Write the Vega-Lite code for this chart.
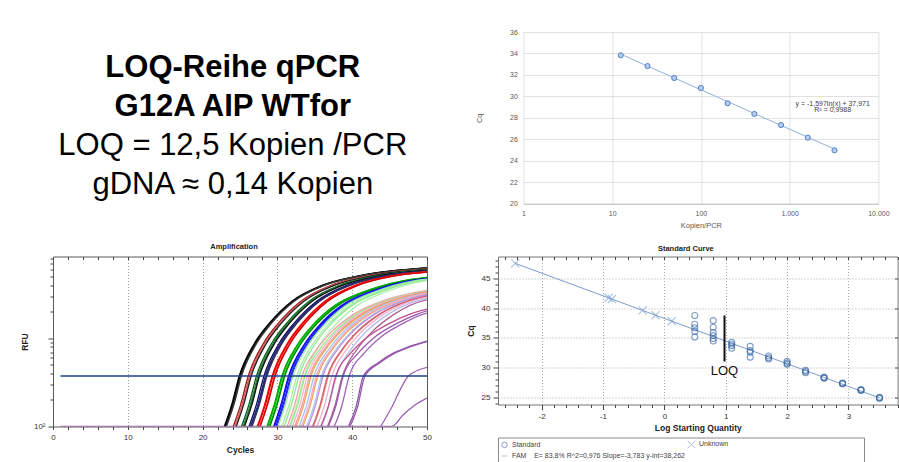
{
  "$schema": "https://vega.github.io/schema/vega-lite/v6.json",
  "autosize": {"type": "pad"},
  "padding": {"left": 19, "top": 28, "right": 0, "bottom": 0},
  "background": "white",
  "spacing": 12.5,
  "resolve": {
    "scale": {"color": "independent", "shape": "independent"},
    "legend": {"color": "independent", "shape": "independent"}
  },
  "config": {
    "font": "Liberation Sans",
    "locale": {"number": {"decimal": ",", "thousands": ".", "grouping": [3], "currency": ["", " €"], "minus": "-"}},
    "view": {"stroke": null},
    "axis": {"labelFlush": false, "labelOverlap": false, "labelFont": "Liberation Sans", "titleFont": "Liberation Sans"},
    "title": {"font": "Liberation Sans"}
  },
  "datasets": {
    "zeilen": [
      {"n": 1, "t": "LOQ-Reihe qPCR", "art": "Titel"},
      {"n": 2, "t": "G12A AIP WTfor", "art": "Titel"},
      {"n": 3, "t": "LOQ = 12,5 Kopien /PCR", "art": "Ergebnis"},
      {"n": 4, "t": "gDNA ≈ 0,14 Kopien", "art": "Ergebnis"}
    ],
    "loqreihe": [
      {"n": 12.5, "cq": 33.83}, {"n": 25, "cq": 32.83}, {"n": 50, "cq": 31.71},
      {"n": 100, "cq": 30.78}, {"n": 200, "cq": 29.35}, {"n": 400, "cq": 28.36},
      {"n": 800, "cq": 27.33}, {"n": 1600, "cq": 26.15}, {"n": 3200, "cq": 24.97}
    ],
    "trend": [{"n": 12.5, "cq": 33.937}, {"n": 3200, "cq": 25.082}],
    "gleichung": [
      {"n": 3055, "cq": 29.32, "t": "y = -1,597ln(x) + 37,971"},
      {"n": 3055, "cq": 28.76, "t": "R² = 0,9988"}
    ],
    "schwelle": [{"c": 1, "c2": 50, "r": 374}],
    "kurven": [
      {"w":"A1","c":22.9,"r":100},{"w":"A1","c":23.9,"r":178},{"w":"A1","c":24.9,"r":374},{"w":"A1","c":26.9,"r":870},{"w":"A1","c":28.9,"r":1480},{"w":"A1","c":31.9,"r":2630},{"w":"A1","c":35.9,"r":3980},{"w":"A1","c":40.9,"r":5130},{"w":"A1","c":50,"r":6310},
      {"w":"A2","c":23,"r":100},{"w":"A2","c":24,"r":178},{"w":"A2","c":25,"r":374},{"w":"A2","c":27,"r":870},{"w":"A2","c":29,"r":1480},{"w":"A2","c":32,"r":2630},{"w":"A2","c":36,"r":3980},{"w":"A2","c":41,"r":5130},{"w":"A2","c":50,"r":6300},
      {"w":"A3","c":23.1,"r":100},{"w":"A3","c":24.1,"r":178},{"w":"A3","c":25.1,"r":374},{"w":"A3","c":27.1,"r":870},{"w":"A3","c":29.1,"r":1480},{"w":"A3","c":32.1,"r":2630},{"w":"A3","c":36.1,"r":3980},{"w":"A3","c":41.1,"r":5130},{"w":"A3","c":50,"r":6280},
      {"w":"A4","c":23.2,"r":100},{"w":"A4","c":24.2,"r":178},{"w":"A4","c":25.2,"r":374},{"w":"A4","c":27.2,"r":870},{"w":"A4","c":29.2,"r":1480},{"w":"A4","c":32.2,"r":2630},{"w":"A4","c":36.2,"r":3980},{"w":"A4","c":41.2,"r":5130},{"w":"A4","c":50,"r":6260},
      {"w":"B1","c":24.1,"r":100},{"w":"B1","c":25.1,"r":178},{"w":"B1","c":26.1,"r":374},{"w":"B1","c":28.1,"r":870},{"w":"B1","c":30.1,"r":1480},{"w":"B1","c":33.1,"r":2630},{"w":"B1","c":37.1,"r":3980},{"w":"B1","c":42.1,"r":5130},{"w":"B1","c":50,"r":6150},
      {"w":"B2","c":24.3,"r":100},{"w":"B2","c":25.3,"r":178},{"w":"B2","c":26.3,"r":374},{"w":"B2","c":28.3,"r":870},{"w":"B2","c":30.3,"r":1480},{"w":"B2","c":33.3,"r":2630},{"w":"B2","c":37.3,"r":3980},{"w":"B2","c":42.3,"r":5130},{"w":"B2","c":50,"r":6120},
      {"w":"B3","c":24.4,"r":100},{"w":"B3","c":25.4,"r":178},{"w":"B3","c":26.4,"r":374},{"w":"B3","c":28.4,"r":870},{"w":"B3","c":30.4,"r":1480},{"w":"B3","c":33.4,"r":2630},{"w":"B3","c":37.4,"r":3980},{"w":"B3","c":42.4,"r":5130},{"w":"B3","c":50,"r":6110},
      {"w":"B4","c":24.5,"r":100},{"w":"B4","c":25.5,"r":178},{"w":"B4","c":26.5,"r":374},{"w":"B4","c":28.5,"r":870},{"w":"B4","c":30.5,"r":1480},{"w":"B4","c":33.5,"r":2630},{"w":"B4","c":37.5,"r":3980},{"w":"B4","c":42.5,"r":5130},{"w":"B4","c":50,"r":6090},
      {"w":"C1","c":25.2,"r":100},{"w":"C1","c":26.2,"r":178},{"w":"C1","c":27.2,"r":374},{"w":"C1","c":29.2,"r":870},{"w":"C1","c":31.2,"r":1480},{"w":"C1","c":34.2,"r":2630},{"w":"C1","c":38.2,"r":3980},{"w":"C1","c":43.2,"r":5130},{"w":"C1","c":50,"r":6000},
      {"w":"C2","c":25.4,"r":100},{"w":"C2","c":26.4,"r":178},{"w":"C2","c":27.4,"r":374},{"w":"C2","c":29.4,"r":870},{"w":"C2","c":31.4,"r":1480},{"w":"C2","c":34.4,"r":2630},{"w":"C2","c":38.4,"r":3980},{"w":"C2","c":43.4,"r":5130},{"w":"C2","c":50,"r":5970},
      {"w":"C3","c":25.5,"r":100},{"w":"C3","c":26.5,"r":178},{"w":"C3","c":27.5,"r":374},{"w":"C3","c":29.5,"r":870},{"w":"C3","c":31.5,"r":1480},{"w":"C3","c":34.5,"r":2630},{"w":"C3","c":38.5,"r":3980},{"w":"C3","c":43.5,"r":5130},{"w":"C3","c":50,"r":5960},
      {"w":"C4","c":25.6,"r":100},{"w":"C4","c":26.6,"r":178},{"w":"C4","c":27.6,"r":374},{"w":"C4","c":29.6,"r":870},{"w":"C4","c":31.6,"r":1480},{"w":"C4","c":34.6,"r":2630},{"w":"C4","c":38.6,"r":3980},{"w":"C4","c":43.6,"r":5130},{"w":"C4","c":50,"r":5940},
      {"w":"D1","c":26.2,"r":100},{"w":"D1","c":27.2,"r":178},{"w":"D1","c":28.2,"r":374},{"w":"D1","c":30.2,"r":870},{"w":"D1","c":32.2,"r":1480},{"w":"D1","c":35.2,"r":2630},{"w":"D1","c":39.2,"r":3980},{"w":"D1","c":44.2,"r":5130},{"w":"D1","c":50,"r":5860},
      {"w":"D2","c":26.4,"r":100},{"w":"D2","c":27.4,"r":178},{"w":"D2","c":28.4,"r":374},{"w":"D2","c":30.4,"r":870},{"w":"D2","c":32.4,"r":1480},{"w":"D2","c":35.4,"r":2630},{"w":"D2","c":39.4,"r":3980},{"w":"D2","c":44.4,"r":5130},{"w":"D2","c":50,"r":5830},
      {"w":"D3","c":26.5,"r":100},{"w":"D3","c":27.5,"r":178},{"w":"D3","c":28.5,"r":374},{"w":"D3","c":30.5,"r":870},{"w":"D3","c":32.5,"r":1480},{"w":"D3","c":35.5,"r":2630},{"w":"D3","c":39.5,"r":3980},{"w":"D3","c":44.5,"r":5130},{"w":"D3","c":50,"r":5820},
      {"w":"D4","c":26.6,"r":100},{"w":"D4","c":27.6,"r":178},{"w":"D4","c":28.6,"r":374},{"w":"D4","c":30.6,"r":870},{"w":"D4","c":32.6,"r":1480},{"w":"D4","c":35.6,"r":2630},{"w":"D4","c":39.6,"r":3980},{"w":"D4","c":44.6,"r":5130},{"w":"D4","c":50,"r":5800},
      {"w":"E1","c":27.3,"r":100},{"w":"E1","c":28.3,"r":178},{"w":"E1","c":29.3,"r":374},{"w":"E1","c":31.3,"r":870},{"w":"E1","c":33.3,"r":1480},{"w":"E1","c":36.3,"r":2630},{"w":"E1","c":40.3,"r":3980},{"w":"E1","c":45.3,"r":5130},{"w":"E1","c":50,"r":5710},
      {"w":"E2","c":27.4,"r":100},{"w":"E2","c":28.4,"r":178},{"w":"E2","c":29.4,"r":374},{"w":"E2","c":31.4,"r":870},{"w":"E2","c":33.4,"r":1480},{"w":"E2","c":36.4,"r":2630},{"w":"E2","c":40.4,"r":3980},{"w":"E2","c":45.4,"r":5130},{"w":"E2","c":50,"r":5700},
      {"w":"E3","c":27.6,"r":100},{"w":"E3","c":28.6,"r":178},{"w":"E3","c":29.6,"r":374},{"w":"E3","c":31.6,"r":870},{"w":"E3","c":33.6,"r":1480},{"w":"E3","c":36.6,"r":2630},{"w":"E3","c":40.6,"r":3980},{"w":"E3","c":45.6,"r":5130},{"w":"E3","c":50,"r":5670},
      {"w":"E4","c":27.7,"r":100},{"w":"E4","c":28.7,"r":178},{"w":"E4","c":29.7,"r":374},{"w":"E4","c":31.7,"r":870},{"w":"E4","c":33.7,"r":1480},{"w":"E4","c":36.7,"r":2630},{"w":"E4","c":40.7,"r":3980},{"w":"E4","c":45.7,"r":5130},{"w":"E4","c":50,"r":5660},
      {"w":"F1","c":28.6,"r":100},{"w":"F1","c":29.6,"r":180},{"w":"F1","c":30.6,"r":374},{"w":"F1","c":32.6,"r":830},{"w":"F1","c":34.6,"r":1380},{"w":"F1","c":37.6,"r":2340},{"w":"F1","c":41.6,"r":3390},{"w":"F1","c":46.6,"r":4470},{"w":"F1","c":50,"r":4910},
      {"w":"F2","c":28.7,"r":100},{"w":"F2","c":29.7,"r":180},{"w":"F2","c":30.7,"r":374},{"w":"F2","c":32.7,"r":830},{"w":"F2","c":34.7,"r":1380},{"w":"F2","c":37.7,"r":2340},{"w":"F2","c":41.7,"r":3390},{"w":"F2","c":46.7,"r":4470},{"w":"F2","c":50,"r":4900},
      {"w":"F3","c":28.9,"r":100},{"w":"F3","c":29.9,"r":180},{"w":"F3","c":30.9,"r":374},{"w":"F3","c":32.9,"r":830},{"w":"F3","c":34.9,"r":1380},{"w":"F3","c":37.9,"r":2340},{"w":"F3","c":41.9,"r":3390},{"w":"F3","c":46.9,"r":4470},{"w":"F3","c":50,"r":4870},
      {"w":"F4","c":29,"r":100},{"w":"F4","c":30,"r":180},{"w":"F4","c":31,"r":374},{"w":"F4","c":33,"r":830},{"w":"F4","c":35,"r":1380},{"w":"F4","c":38,"r":2340},{"w":"F4","c":42,"r":3390},{"w":"F4","c":47,"r":4470},{"w":"F4","c":50,"r":4850},
      {"w":"G1","c":29.5,"r":100},{"w":"G1","c":30.5,"r":180},{"w":"G1","c":31.5,"r":374},{"w":"G1","c":33.5,"r":830},{"w":"G1","c":35.5,"r":1380},{"w":"G1","c":38.5,"r":2340},{"w":"G1","c":42.5,"r":3390},{"w":"G1","c":47.5,"r":4470},{"w":"G1","c":50,"r":4790},
      {"w":"G2","c":29.6,"r":100},{"w":"G2","c":30.6,"r":180},{"w":"G2","c":31.6,"r":374},{"w":"G2","c":33.6,"r":830},{"w":"G2","c":35.6,"r":1380},{"w":"G2","c":38.6,"r":2340},{"w":"G2","c":42.6,"r":3390},{"w":"G2","c":47.6,"r":4470},{"w":"G2","c":50,"r":4780},
      {"w":"G3","c":29.8,"r":100},{"w":"G3","c":30.8,"r":180},{"w":"G3","c":31.8,"r":374},{"w":"G3","c":33.8,"r":830},{"w":"G3","c":35.8,"r":1380},{"w":"G3","c":38.8,"r":2340},{"w":"G3","c":42.8,"r":3390},{"w":"G3","c":47.8,"r":4470},{"w":"G3","c":50,"r":4750},
      {"w":"G4","c":29.9,"r":100},{"w":"G4","c":30.9,"r":180},{"w":"G4","c":31.9,"r":374},{"w":"G4","c":33.9,"r":830},{"w":"G4","c":35.9,"r":1380},{"w":"G4","c":38.9,"r":2340},{"w":"G4","c":42.9,"r":3390},{"w":"G4","c":47.9,"r":4470},{"w":"G4","c":50,"r":4740},
      {"w":"H1","c":30.1,"r":100},{"w":"H1","c":31.1,"r":180},{"w":"H1","c":32.1,"r":374},{"w":"H1","c":34.1,"r":830},{"w":"H1","c":36.1,"r":1380},{"w":"H1","c":39.1,"r":2340},{"w":"H1","c":43.1,"r":3390},{"w":"H1","c":48.1,"r":4470},{"w":"H1","c":50,"r":4710},
      {"w":"H2","c":30.6,"r":100},{"w":"H2","c":31.6,"r":180},{"w":"H2","c":32.6,"r":374},{"w":"H2","c":34.6,"r":830},{"w":"H2","c":36.6,"r":1380},{"w":"H2","c":39.6,"r":2340},{"w":"H2","c":43.6,"r":3390},{"w":"H2","c":48.6,"r":4470},{"w":"H2","c":50,"r":4650},
      {"w":"H3","c":30.9,"r":100},{"w":"H3","c":31.9,"r":180},{"w":"H3","c":32.9,"r":374},{"w":"H3","c":34.9,"r":830},{"w":"H3","c":36.9,"r":1380},{"w":"H3","c":39.9,"r":2340},{"w":"H3","c":43.9,"r":3390},{"w":"H3","c":48.9,"r":4470},{"w":"H3","c":50,"r":4610},
      {"w":"H4","c":31.6,"r":100},{"w":"H4","c":32.6,"r":180},{"w":"H4","c":33.6,"r":374},{"w":"H4","c":35.6,"r":830},{"w":"H4","c":37.6,"r":1380},{"w":"H4","c":40.6,"r":2340},{"w":"H4","c":44.6,"r":3390},{"w":"H4","c":49.6,"r":4470},{"w":"H4","c":50,"r":4520},
      {"w":"A5","c":31.3,"r":100},{"w":"A5","c":32.3,"r":175},{"w":"A5","c":33.3,"r":374},{"w":"A5","c":35.3,"r":760},{"w":"A5","c":37.3,"r":1200},{"w":"A5","c":40.3,"r":1900},{"w":"A5","c":44.3,"r":2700},{"w":"A5","c":48.3,"r":3300},{"w":"A5","c":50,"r":3500},
      {"w":"A6","c":31.7,"r":100},{"w":"A6","c":32.7,"r":175},{"w":"A6","c":33.7,"r":374},{"w":"A6","c":35.7,"r":760},{"w":"A6","c":37.7,"r":1200},{"w":"A6","c":40.7,"r":1900},{"w":"A6","c":44.7,"r":2700},{"w":"A6","c":48.7,"r":3300},{"w":"A6","c":50,"r":3450},
      {"w":"A7","c":32,"r":100},{"w":"A7","c":33,"r":175},{"w":"A7","c":34,"r":374},{"w":"A7","c":36,"r":760},{"w":"A7","c":38,"r":1200},{"w":"A7","c":41,"r":1900},{"w":"A7","c":45,"r":2700},{"w":"A7","c":49,"r":3300},{"w":"A7","c":50,"r":3420},
      {"w":"A8","c":32.3,"r":100},{"w":"A8","c":33.3,"r":175},{"w":"A8","c":34.3,"r":374},{"w":"A8","c":36.3,"r":760},{"w":"A8","c":38.3,"r":1200},{"w":"A8","c":41.3,"r":1900},{"w":"A8","c":45.3,"r":2700},{"w":"A8","c":49.3,"r":3300},{"w":"A8","c":50,"r":3390},
      {"w":"B5","c":32.5,"r":100},{"w":"B5","c":33.5,"r":175},{"w":"B5","c":34.5,"r":374},{"w":"B5","c":36.5,"r":760},{"w":"B5","c":38.5,"r":1200},{"w":"B5","c":41.5,"r":1900},{"w":"B5","c":45.5,"r":2700},{"w":"B5","c":49.5,"r":3300},{"w":"B5","c":50,"r":3360},
      {"w":"B6","c":32.9,"r":100},{"w":"B6","c":33.9,"r":175},{"w":"B6","c":34.9,"r":374},{"w":"B6","c":36.9,"r":760},{"w":"B6","c":38.9,"r":1200},{"w":"B6","c":41.9,"r":1900},{"w":"B6","c":45.9,"r":2700},{"w":"B6","c":50,"r":3310},
      {"w":"B7","c":33.4,"r":100},{"w":"B7","c":34.4,"r":175},{"w":"B7","c":35.4,"r":374},{"w":"B7","c":37.4,"r":760},{"w":"B7","c":39.4,"r":1200},{"w":"B7","c":42.4,"r":1900},{"w":"B7","c":46.4,"r":2700},{"w":"B7","c":50,"r":3240},
      {"w":"B8","c":33.9,"r":100},{"w":"B8","c":34.9,"r":175},{"w":"B8","c":35.9,"r":374},{"w":"B8","c":37.9,"r":760},{"w":"B8","c":39.9,"r":1200},{"w":"B8","c":42.9,"r":1900},{"w":"B8","c":46.9,"r":2700},{"w":"B8","c":50,"r":3150},
      {"w":"B9","c":34.8,"r":100},{"w":"B9","c":35.8,"r":175},{"w":"B9","c":36.8,"r":374},{"w":"B9","c":38.8,"r":760},{"w":"B9","c":40.8,"r":1200},{"w":"B9","c":43.8,"r":1900},{"w":"B9","c":47.8,"r":2700},{"w":"B9","c":50,"r":3010},
      {"w":"B10","c":35.9,"r":100},{"w":"B10","c":36.9,"r":175},{"w":"B10","c":37.9,"r":374},{"w":"B10","c":39.9,"r":760},{"w":"B10","c":41.9,"r":1200},{"w":"B10","c":44.9,"r":1900},{"w":"B10","c":48.9,"r":2700},{"w":"B10","c":50,"r":2850},
      {"w":"C5","c":33.2,"r":100},{"w":"C5","c":34.2,"r":175},{"w":"C5","c":35.2,"r":374},{"w":"C5","c":37.2,"r":760},{"w":"C5","c":39.2,"r":1200},{"w":"C5","c":42.2,"r":1900},{"w":"C5","c":46.2,"r":2700},{"w":"C5","c":50,"r":3270},
      {"w":"C6","c":34.1,"r":100},{"w":"C6","c":35.1,"r":175},{"w":"C6","c":36.1,"r":374},{"w":"C6","c":38.1,"r":760},{"w":"C6","c":40.1,"r":1200},{"w":"C6","c":43.1,"r":1900},{"w":"C6","c":47.1,"r":2700},{"w":"C6","c":50,"r":3130},
      {"w":"C7","c":34.7,"r":100},{"w":"C7","c":35.7,"r":175},{"w":"C7","c":36.7,"r":374},{"w":"C7","c":38.7,"r":760},{"w":"C7","c":40.7,"r":1200},{"w":"C7","c":43.7,"r":1900},{"w":"C7","c":47.7,"r":2700},{"w":"C7","c":50,"r":3030},
      {"w":"C8","c":35.3,"r":100},{"w":"C8","c":36.3,"r":175},{"w":"C8","c":37.3,"r":374},{"w":"C8","c":39.3,"r":760},{"w":"C8","c":41.3,"r":1200},{"w":"C8","c":44.3,"r":1900},{"w":"C8","c":48.3,"r":2700},{"w":"C8","c":50,"r":2940},
      {"w":"C9","c":36.7,"r":100},{"w":"C9","c":37.7,"r":175},{"w":"C9","c":38.7,"r":374},{"w":"C9","c":40.7,"r":760},{"w":"C9","c":42.7,"r":1200},{"w":"C9","c":45.7,"r":1900},{"w":"C9","c":49.7,"r":2700},{"w":"C9","c":50,"r":2730},
      {"w":"U1","c":35.8,"r":100},{"w":"U1","c":36.8,"r":170},{"w":"U1","c":37.8,"r":374},{"w":"U1","c":39.8,"r":680},{"w":"U1","c":41.8,"r":1000},{"w":"U1","c":44.8,"r":1450},{"w":"U1","c":47.8,"r":1900},{"w":"U1","c":50,"r":2150},
      {"w":"U2","c":36.8,"r":100},{"w":"U2","c":37.8,"r":170},{"w":"U2","c":38.8,"r":374},{"w":"U2","c":40.8,"r":680},{"w":"U2","c":42.8,"r":1000},{"w":"U2","c":45.8,"r":1450},{"w":"U2","c":48.8,"r":1900},{"w":"U2","c":50,"r":2050},
      {"w":"U3","c":37.6,"r":100},{"w":"U3","c":38.6,"r":170},{"w":"U3","c":39.6,"r":374},{"w":"U3","c":41.6,"r":680},{"w":"U3","c":43.6,"r":1000},{"w":"U3","c":46.6,"r":1450},{"w":"U3","c":49.6,"r":1900},{"w":"U3","c":50,"r":1940},
      {"w":"U4","c":39.5,"r":100},{"w":"U4","c":40.5,"r":165},{"w":"U4","c":41.5,"r":374},{"w":"U4","c":43.5,"r":530},{"w":"U4","c":45.5,"r":680},{"w":"U4","c":47.5,"r":800},{"w":"U4","c":50,"r":930},
      {"w":"U5","c":39.7,"r":100},{"w":"U5","c":40.7,"r":165},{"w":"U5","c":41.7,"r":374},{"w":"U5","c":43.7,"r":530},{"w":"U5","c":45.7,"r":680},{"w":"U5","c":47.7,"r":800},{"w":"U5","c":50,"r":920},
      {"w":"U6","c":43.8,"r":100},{"w":"U6","c":45.2,"r":160},{"w":"U6","c":46.6,"r":280},{"w":"U6","c":47.5,"r":374},{"w":"U6","c":50,"r":470},
      {"w":"N1","c":1,"r":100},{"w":"N1","c":45.3,"r":100},{"w":"N1","c":46.8,"r":135},{"w":"N1","c":48.4,"r":175},{"w":"N1","c":50,"r":210}
    ],
    "standardkurve": [
      {"lq": 0.495, "cq": 38.75, "typ": "Standard"}, {"lq": 0.495, "cq": 37.3, "typ": "Standard"}, {"lq": 0.495, "cq": 36.7, "typ": "Standard"}, {"lq": 0.495, "cq": 36.1, "typ": "Standard"}, {"lq": 0.495, "cq": 35.15, "typ": "Standard"},
      {"lq": 0.796, "cq": 37.9, "typ": "Standard"}, {"lq": 0.796, "cq": 36.8, "typ": "Standard"}, {"lq": 0.796, "cq": 35.9, "typ": "Standard"}, {"lq": 0.796, "cq": 35.4, "typ": "Standard"}, {"lq": 0.796, "cq": 34.9, "typ": "Standard"}, {"lq": 0.796, "cq": 34.5, "typ": "Standard"},
      {"lq": 1.097, "cq": 34.3, "typ": "Standard"}, {"lq": 1.097, "cq": 34.0, "typ": "Standard"}, {"lq": 1.097, "cq": 33.7, "typ": "Standard"}, {"lq": 1.097, "cq": 33.3, "typ": "Standard"},
      {"lq": 1.398, "cq": 33.6, "typ": "Standard"}, {"lq": 1.398, "cq": 32.9, "typ": "Standard"}, {"lq": 1.398, "cq": 32.6, "typ": "Standard"}, {"lq": 1.398, "cq": 31.8, "typ": "Standard"},
      {"lq": 1.699, "cq": 32.0, "typ": "Standard"}, {"lq": 1.699, "cq": 31.7, "typ": "Standard"}, {"lq": 1.699, "cq": 31.5, "typ": "Standard"},
      {"lq": 2.0, "cq": 31.1, "typ": "Standard"}, {"lq": 2.0, "cq": 30.8, "typ": "Standard"}, {"lq": 2.0, "cq": 30.6, "typ": "Standard"},
      {"lq": 2.301, "cq": 29.6, "typ": "Standard"}, {"lq": 2.301, "cq": 29.4, "typ": "Standard"}, {"lq": 2.301, "cq": 29.2, "typ": "Standard"},
      {"lq": 2.602, "cq": 28.5, "typ": "Standard"}, {"lq": 2.602, "cq": 28.35, "typ": "Standard"}, {"lq": 2.602, "cq": 28.3, "typ": "Standard"},
      {"lq": 2.903, "cq": 27.5, "typ": "Standard"}, {"lq": 2.903, "cq": 27.4, "typ": "Standard"}, {"lq": 2.903, "cq": 27.35, "typ": "Standard"},
      {"lq": 3.204, "cq": 26.4, "typ": "Standard"}, {"lq": 3.204, "cq": 26.3, "typ": "Standard"}, {"lq": 3.204, "cq": 26.25, "typ": "Standard"},
      {"lq": 3.505, "cq": 25.1, "typ": "Standard"}, {"lq": 3.505, "cq": 25.0, "typ": "Standard"}, {"lq": 3.505, "cq": 24.95, "typ": "Standard"},
      {"lq": -2.429, "cq": 47.45, "typ": "Unknown"}, {"lq": -0.909, "cq": 41.7, "typ": "Unknown"}, {"lq": -0.856, "cq": 41.5, "typ": "Unknown"},
      {"lq": -0.354, "cq": 39.6, "typ": "Unknown"}, {"lq": -0.142, "cq": 38.8, "typ": "Unknown"}, {"lq": 0.122, "cq": 37.8, "typ": "Unknown"}
    ],
    "fam": [{"lq": -2.429, "cq": 47.451}, {"lq": 3.505, "cq": 25.003}],
    "loq": [{"lq": 0.98, "cq": 31.07, "cq2": 38.75, "t": "LOQ"}]
  },
  "vconcat": [
    {
      "bounds": "flush",
      "spacing": 110.4,
      "hconcat": [
        {
          "width": 359.6,
          "height": 171.6,
          "data": {"name": "zeilen"},
          "encoding": {
            "y": {"field": "n", "type": "ordinal", "axis": null, "scale": {"type": "point", "padding": 0.7113, "align": 0.8225}},
            "text": {"field": "t"}
          },
          "layer": [
            {
              "transform": [{"filter": "datum.art === 'Titel'"}],
              "mark": {"type": "text", "fontSize": 31, "fontWeight": "bold", "baseline": "alphabetic", "align": "center", "color": "#000000"}
            },
            {
              "transform": [{"filter": "datum.art === 'Ergebnis'"}],
              "mark": {"type": "text", "fontSize": 31, "baseline": "alphabetic", "align": "center", "color": "#000000"}
            }
          ]
        },
        {
          "width": 355,
          "height": 171.6,
          "encoding": {
            "x": {
              "field": "n", "type": "quantitative",
              "scale": {"type": "log", "domain": [1, 10000], "nice": false},
              "axis": {
                "title": "Kopien/PCR", "values": [1, 10, 100, 1000, 10000], "format": ",d",
                "grid": true, "gridColor": "#d9d9d9", "gridWidth": 0.8, "ticks": false, "labelOverlap": false,
                "domainColor": "#bfbfbf", "labelFontSize": 7, "labelColor": "#595959", "labelPadding": 6,
                "titleFontSize": 7.5, "titleColor": "#595959", "titleFontWeight": "normal", "titlePadding": 5
              }
            },
            "y": {
              "field": "cq", "type": "quantitative",
              "scale": {"domain": [20, 36], "nice": false, "zero": false},
              "axis": {
                "title": "Cq", "values": [20, 22, 24, 26, 28, 30, 32, 34, 36],
                "grid": true, "gridColor": "#d9d9d9", "gridWidth": 0.8, "ticks": false, "domain": false, "labelOverlap": false,
                "labelFontSize": 7, "labelColor": "#595959", "labelPadding": 6,
                "titleFontSize": 7.5, "titleColor": "#595959", "titleFontWeight": "normal", "titlePadding": 26
              }
            }
          },
          "layer": [
            {
              "data": {"name": "trend"},
              "mark": {"type": "line", "color": "#8fb0dc", "strokeWidth": 1}
            },
            {
              "data": {"name": "loqreihe"},
              "mark": {"type": "point", "shape": "circle", "filled": true, "fill": "#b9cdee", "stroke": "#4f7fc6", "strokeWidth": 1, "size": 26, "opacity": 1}
            },
            {
              "data": {"name": "gleichung"},
              "mark": {"type": "text", "fontSize": 7, "color": "#404040", "baseline": "middle"},
              "encoding": {"text": {"field": "t"}}
            }
          ]
        }
      ]
    },
    {
      "bounds": "flush",
      "spacing": 71,
      "resolve": {
        "scale": {"color": "independent", "shape": "independent"},
        "legend": {"color": "independent", "shape": "independent"}
      },
      "hconcat": [
        {
          "width": 374,
          "height": 170,
          "view": {"stroke": "#5a5a5a"},
          "title": {"text": "Amplification", "fontSize": 7.5, "fontWeight": "bold", "offset": 4, "dx": -6, "color": "#222"},
          "layer": [
            {
              "data": {"name": "kurven"},
              "mark": {"type": "line", "interpolate": "monotone", "strokeWidth": 1.3, "clip": true},
              "encoding": {
                "x": {
                  "field": "c", "type": "quantitative",
                  "scale": {"domain": [0, 50], "nice": false},
                  "axis": {
                    "title": "Cycles", "values": [0,2,4,6,8,10,12,14,16,18,20,22,24,26,28,30,32,34,36,38,40,42,44,46,48,50],
                    "labelExpr": "datum.value % 10 === 0 ? datum.label : ''", "labelOverlap": false,
                    "grid": true, "gridDash": [1, 2], "gridColor": "#9a9a9a",
                    "gridOpacity": {"condition": {"test": "datum.value % 10 === 0 && datum.value > 0 && datum.value < 50", "value": 1}, "value": 0},
                    "tickSize": 3, "tickColor": "#444", "domain": false,
                    "labelFontSize": 8, "labelColor": "#333", "labelPadding": 4,
                    "titleFontSize": 8.5, "titleFontWeight": "bold", "titleColor": "#222", "titlePadding": 4
                  }
                },
                "y": {
                  "field": "r", "type": "quantitative",
                  "scale": {"type": "log", "domain": [100, 8500], "nice": false},
                  "axis": {
                    "title": "RFU", "values": [100,200,300,400,500,600,700,800,900,1000,2000,3000,4000,5000,6000,7000,8000],
                    "labelExpr": "datum.value === 100 ? '10²' : ''", "labelOverlap": false,
                    "tickSize": {"condition": {"test": "datum.value === 100 || datum.value === 1000", "value": 5}, "value": 3},
                    "tickColor": "#444", "grid": false, "domain": false,
                    "labelFontSize": 8, "labelColor": "#333", "labelPadding": 3,
                    "titleFontSize": 8.5, "titleFontWeight": "bold", "titleColor": "#222", "titlePadding": 4
                  }
                },
                "color": {
                  "field": "w", "type": "nominal", "legend": null,
                  "scale": {
                    "domain": ["A1","A2","A3","A4","B1","B2","B3","B4","C1","C2","C3","C4","D1","D2","D3","D4","E1","E2","E3","E4","F1","F2","F3","F4","G1","G2","G3","G4","H1","H2","H3","H4","A5","A6","A7","A8","B5","B6","B7","B8","B9","B10","C5","C6","C7","C8","C9","U1","U2","U3","U4","U5","U6","N1"],
                    "range": ["#000000","#000000","#151515","#3a3a3a","#a01818","#d04040","#e88080","#202020","#0b5e1f","#1f7a33","#2e8b3e","#111111","#101060","#1c1c7a","#2a2a90","#303050","#ff0000","#e60000","#ff3030","#cc0000","#00a000","#00b400","#10c010","#008c00","#0000ff","#1a1aff","#0000d0","#3a3aff","#98f098","#a8eea8","#90e890","#b0f0b0","#f4a0a0","#90e890","#ffb0c8","#f4a0a0","#f0a050","#9ec5f0","#f0a050","#a8c8f8","#e08850","#b0b8f0","#f5a8c8","#c090d0","#d06080","#f0b0d0","#b06090","#c0508a","#9a5ab0","#a064b4","#9050a8","#9a5ab0","#a064b4","#9a5ab0"]
                  }
                }
              }
            },
            {
              "data": {"name": "schwelle"},
              "mark": {"type": "rule", "color": "#1d3f8f", "strokeWidth": 1.3},
              "encoding": {
                "x": {
                  "field": "c", "type": "quantitative",
                  "axis": {
                    "orient": "top", "title": null, "labels": false, "domain": false, "grid": false,
                    "values": [0,2,4,6,8,10,12,14,16,18,20,22,24,26,28,30,32,34,36,38,40,42,44,46,48,50],
                    "tickSize": -3, "tickColor": "#444"
                  }
                },
                "x2": {"field": "c2"},
                "y": {"field": "r", "type": "quantitative"}
              }
            }
          ],
          "resolve": {"axis": {"x": "independent"}}
        },
        {
          "width": 399.6,
          "height": 148,
          "view": {"stroke": "#777777"},
          "title": {"text": "Standard Curve", "fontSize": 7.5, "fontWeight": "bold", "offset": 4, "dx": -12, "color": "#222"},
          "layer": [
            {
              "encoding": {
                "x": {
                  "field": "lq", "type": "quantitative",
                  "scale": {"domain": [-2.71, 3.8], "nice": false, "zero": false},
                  "axis": {
                    "title": "Log Starting Quantity",
                    "values": [-2.6,-2.4,-2.2,-2,-1.8,-1.6,-1.4,-1.2,-1,-0.8,-0.6,-0.4,-0.2,0,0.2,0.4,0.6,0.8,1,1.2,1.4,1.6,1.8,2,2.2,2.4,2.6,2.8,3,3.2,3.4,3.6,3.8],
                    "format": ".0f", "labelOverlap": false,
                    "labelExpr": "abs(datum.value - round(datum.value)) < 0.001 ? datum.label : ''",
                    "grid": true, "gridDash": [1, 2], "gridColor": "#a8a8a8",
                    "gridOpacity": {"condition": {"test": "abs(datum.value - round(datum.value)) < 0.001", "value": 1}, "value": 0},
                    "tickSize": {"condition": {"test": "abs(datum.value - round(datum.value)) < 0.001", "value": 5}, "value": 3},
                    "tickColor": "#444", "domain": false,
                    "labelFontSize": 8, "labelColor": "#333", "labelPadding": 3,
                    "titleFontSize": 8.5, "titleFontWeight": "bold", "titleColor": "#222", "titlePadding": 3
                  }
                },
                "y": {
                  "field": "cq", "type": "quantitative",
                  "scale": {"domain": [23.9, 48.6], "nice": false, "zero": false},
                  "axis": {
                    "title": "Cq",
                    "values": [24,25,26,27,28,29,30,31,32,33,34,35,36,37,38,39,40,41,42,43,44,45,46,47,48],
                    "labelExpr": "datum.value % 5 === 0 ? datum.label : ''", "labelOverlap": false,
                    "grid": true, "gridDash": [1, 2], "gridColor": "#a8a8a8",
                    "gridOpacity": {"condition": {"test": "datum.value % 5 === 0", "value": 1}, "value": 0},
                    "tickSize": {"condition": {"test": "datum.value % 5 === 0", "value": 5}, "value": 3},
                    "tickColor": "#444", "domain": false,
                    "labelFontSize": 8, "labelColor": "#333", "labelPadding": 3,
                    "titleFontSize": 8.5, "titleFontWeight": "bold", "titleColor": "#222", "titlePadding": 6
                  }
                }
              },
              "layer": [
                {
                  "data": {"name": "fam"},
                  "mark": {"type": "line", "color": "#7c9ccb", "strokeWidth": 1}
                },
                {
                  "data": {"name": "standardkurve"},
                  "mark": {"type": "point", "filled": false, "strokeWidth": 1.1, "size": 36, "opacity": 0.6},
                  "encoding": {
                    "shape": {
                      "field": "typ", "type": "nominal",
                      "scale": {
                        "domain": ["Standard", "Unknown", "FAM\u00a0\u00a0\u00a0\u00a0E= 83,8% R^2=0,976 Slope=-3,783 y-int=38,262"],
                        "range": ["circle", "M-1.35,-1.35L1.35,1.35M-1.35,1.35L1.35,-1.35", "stroke"]
                      },
                      "legend": {
                        "orient": "bottom", "direction": "horizontal", "columns": 2, "title": null,
                        "strokeColor": "#8a8a8a", "fillColor": "#ffffff", "padding": 3, "offset": 5,
                        "labelFontSize": 7, "labelColor": "#444", "labelLimit": 400,
                        "labelExpr": "datum.label === 'Unknown' ? 'Unknown' + '\u00a0\u00a0\u00a0\u00a0\u00a0\u00a0\u00a0\u00a0\u00a0\u00a0\u00a0\u00a0\u00a0\u00a0\u00a0\u00a0\u00a0\u00a0\u00a0\u00a0\u00a0\u00a0\u00a0\u00a0\u00a0\u00a0\u00a0\u00a0\u00a0\u00a0\u00a0\u00a0\u00a0\u00a0\u00a0\u00a0\u00a0\u00a0\u00a0\u00a0\u00a0\u00a0\u00a0\u00a0\u00a0\u00a0\u00a0\u00a0\u00a0\u00a0\u00a0\u00a0\u00a0\u00a0\u00a0\u00a0\u00a0\u00a0\u00a0\u00a0\u00a0\u00a0\u00a0\u00a0\u00a0\u00a0\u00a0\u00a0\u200b' : datum.label",
                        "symbolSize": 30, "symbolStrokeWidth": 1, "rowPadding": 1, "columnPadding": 0
                      }
                    },
                    "color": {
                      "field": "typ", "type": "nominal",
                      "scale": {
                        "domain": ["Standard", "Unknown", "FAM\u00a0\u00a0\u00a0\u00a0E= 83,8% R^2=0,976 Slope=-3,783 y-int=38,262"],
                        "range": ["#2f5f9f", "#6f97cc", "#7c9ccb"]
                      }
                    }
                  }
                },
                {
                  "data": {"name": "loq"},
                  "mark": {"type": "rule", "color": "#111111", "strokeWidth": 2},
                  "encoding": {"y2": {"field": "cq2"}}
                }
              ]
            },
            {
              "data": {"name": "loq"},
              "mark": {"type": "text", "fontSize": 13, "baseline": "top", "dy": 3, "color": "#111111"},
              "encoding": {
                "x": {
                  "field": "lq", "type": "quantitative",
                  "scale": {"domain": [-2.71, 3.8], "nice": false, "zero": false},
                  "axis": {
                    "orient": "top", "title": null, "labels": false, "domain": false, "grid": false,
                    "values": [-2.6,-2.4,-2.2,-2,-1.8,-1.6,-1.4,-1.2,-1,-0.8,-0.6,-0.4,-0.2,0,0.2,0.4,0.6,0.8,1,1.2,1.4,1.6,1.8,2,2.2,2.4,2.6,2.8,3,3.2,3.4,3.6,3.8],
                    "tickSize": -3, "tickColor": "#444"
                  }
                },
                "y": {
                  "field": "cq", "type": "quantitative",
                  "scale": {"domain": [23.9, 48.6], "nice": false, "zero": false},
                  "axis": {
                    "orient": "right", "title": null, "labels": false, "domain": false, "grid": false,
                    "values": [25, 30, 35, 40, 45],
                    "tickSize": -3, "tickColor": "#444"
                  }
                },
                "text": {"field": "t"}
              }
            }
          ],
          "resolve": {"axis": {"x": "independent", "y": "independent"}}
        }
      ]
    }
  ]
}
